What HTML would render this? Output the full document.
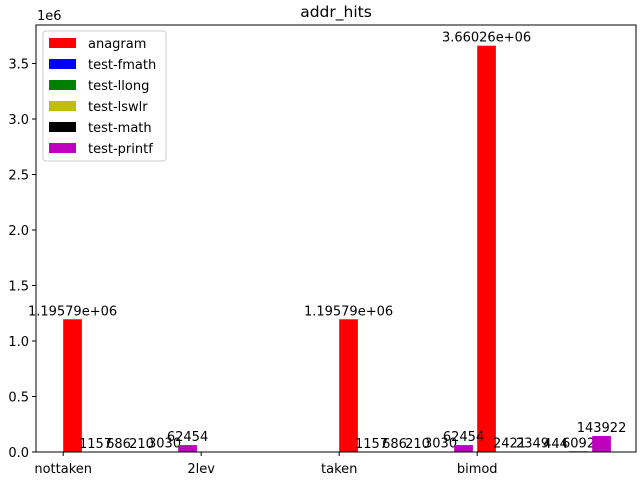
<!DOCTYPE html>
<html><head><meta charset="utf-8"><style>
body{margin:0;background:#fff}
svg text{font-family:"DejaVu Sans","Liberation Sans",sans-serif;fill:#000}
</style></head><body>
<svg id="c" width="640" height="480">
<rect x="0" y="0" width="640" height="480" fill="#fff"/>
<text x="336" y="17" font-size="15.5" text-anchor="middle">addr_hits</text>
<text x="37" y="20" font-size="13">1e6</text>
<g id="bars"></g><g id="axes"></g>
<g id="legend"></g>
</svg>
<script>
const categories=["nottaken","2lev","taken","bimod"];
const groupX=[0,2,3];
const seriesNames=["anagram","test-fmath","test-llong","test-lswlr","test-math","test-printf"];
const colors=["#ff0000","#0000ff","#008000","#bfbf00","#000000","#bf00bf"];
const anagram=[1195790,1195790,3660260];
const fmath=[1157,1157,2421];
const llong=[686,686,2349];
const lswlr=[210,210,444];
const math=[3030,3030,6092];
const printf=[62454,62454,143922];
const labels=[["1.19579e+06","1.19579e+06","3.66026e+06"],fmath.map(String),llong.map(String),lswlr.map(String),math.map(String),printf.map(String)];
const yTicks=[0,0.5,1,1.5,2,2.5,3,3.5];
const series=[anagram,fmath,llong,lswlr,math,printf];
const NS="http://www.w3.org/2000/svg";
const L=36,R=636,T=25,B=452;
const xs=u=>63.2+u*138;
const ys=v=>452-v/1e6*111;
function mk(tag,attrs,parent){const e=document.createElementNS(NS,tag);for(const k in attrs)e.setAttribute(k,attrs[k]);parent.appendChild(e);return e;}
const bars=document.getElementById('bars'),axes=document.getElementById('axes'),leg=document.getElementById('legend');
series.forEach((s,i)=>{s.forEach((v,j)=>{
 const x=xs(groupX[j]+i/6);const w=18.7;
 const r=mk('rect',{x:x,y:ys(v),width:w,height:B-ys(v),fill:colors[i]},bars);
 
 
 const t=mk('text',{x:x+w/2,y:ys(v)-4,'font-size':13,'text-anchor':'middle'},bars);
 t.textContent=labels[i][j];
 
 
});});
const fr=mk('rect',{x:L,y:T,width:R-L,height:B-T,fill:'none',stroke:'#000','stroke-width':1},axes);


yTicks.forEach(v=>{const y=ys(v*1e6);
 mk('line',{x1:L-4,x2:L,y1:y,y2:y,stroke:'#000'},axes);
 const t=mk('text',{x:L-7,y:y+5,'font-size':13,'text-anchor':'end'},axes);
 t.textContent=v.toFixed(1);
 
 });
categories.forEach((c,i)=>{const x=xs(i);
 mk('line',{x1:x,x2:x,y1:B,y2:B+4,stroke:'#000'},axes);
 const t=mk('text',{x:x,y:B+21,'font-size':13,'text-anchor':'middle'},axes);
 t.textContent=c;
 
 });
mk('rect',{x:43,y:31,width:123,height:130,rx:3,fill:'#fff','fill-opacity':0.8,stroke:'#ccc'},leg);
seriesNames.forEach((n,i)=>{const y=43+i*21;
 const p=mk('rect',{x:49,y:y-5,width:27,height:10,fill:colors[i]},leg);
 
 
 const t=mk('text',{x:88,y:y+5,'font-size':13},leg);
 t.textContent=n;
 
 });
</script>
</body></html>
